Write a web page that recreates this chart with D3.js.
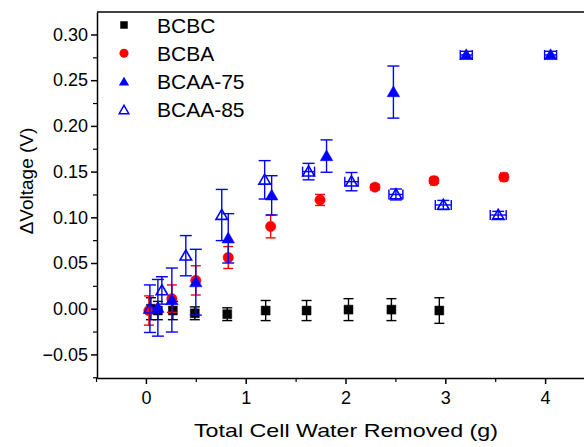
<!DOCTYPE html>
<html>
<head>
<meta charset="utf-8">
<script src="https://cdn.jsdelivr.net/npm/d3@7"></script>
<style>
  html, body { margin: 0; padding: 0; background: #fff; }
  svg { display: block; font-family: Arial, "Liberation Sans", sans-serif; }
</style>
</head>
<body>
<svg id="chart" width="584" height="447"></svg>
<script>
// Voltage change versus water removed, four cell configurations
const seriesNames = ["BCBC", "BCBA", "BCAA-75", "BCAA-85"];

const bcbcX    = [0.05, 0.12, 0.27, 0.49, 0.815, 1.20, 1.61, 2.03, 2.46, 2.94];
const bcbcY    = [0.0, -0.002, -0.002, -0.005, -0.006, -0.002, -0.002, -0.001, -0.001, -0.002];
const bcbcYErr = [0.012, 0.010, 0.010, 0.007, 0.007, 0.011, 0.011, 0.012, 0.012, 0.014];
const bcbcXErr = [0, 0, 0, 0, 0, 0, 0, 0, 0, 0];

const bcbaX    = [0.03, 0.26, 0.50, 0.825, 1.25, 1.745, 2.295, 2.886, 3.587];
const bcbaY    = [-0.002, 0.011, 0.031, 0.056, 0.090, 0.119, 0.133, 0.140, 0.144];
const bcbaYErr = [0.016, 0.015, 0.016, 0.012, 0.0125, 0.006, 0.003, 0.003, 0.003];
const bcbaXErr = [0, 0, 0, 0, 0, 0, 0, 0.03, 0.03];

const aa75X    = [0.12, 0.26, 0.50, 0.825, 1.26, 1.81, 2.48, 3.21, 4.055];
const aa75Y    = [0.001, 0.0095, 0.029, 0.077, 0.124, 0.167, 0.237, 0.2776, 0.2776];
const aa75YErr = [0.031, 0.035, 0.036, 0.027, 0.0215, 0.0177, 0.0285, 0.004, 0.004];
const aa75XErr = [0, 0, 0, 0, 0, 0, 0, 0.06, 0.06];

const aa85X    = [0.04, 0.16, 0.40, 0.76, 1.19, 1.63, 2.06, 2.505, 2.98, 3.53];
const aa85Y    = [0.0, 0.020, 0.058, 0.1025, 0.141, 0.150, 0.139, 0.125, 0.1135, 0.1025];
const aa85YErr = [0.026, 0.015, 0.022, 0.028, 0.021, 0.009, 0.010, 0.006, 0.005, 0.004];
const aa85XErr = [0, 0, 0, 0, 0, 0.06, 0.067, 0.07, 0.08, 0.08];

const xTickValues = [0, 1, 2, 3, 4];
const yTickValues = [-0.05, 0.00, 0.05, 0.10, 0.15, 0.20, 0.25, 0.30];

const svg = d3.select("#chart");
const mLeft = 97, mTop = 12, mBottom = 378;

const x = d3.scaleLinear().domain([-0.49, 4.55]).range([mLeft, mLeft + (4.55 + 0.49) * 99.8]);
const y = d3.scaleLinear().domain([-0.0758, 0.3246]).range([mBottom, mTop]);

function zip(xs, ys, ye, xe) {
  return xs.map((v, i) => ({ x: v, y: ys[i], ye: ye[i], xe: xe[i] }));
}

const series = [
  { name: seriesNames[0], data: zip(bcbcX, bcbcY, bcbcYErr, bcbcXErr), color: "#000000",
    symbol: d3.symbolSquare, size: 80, fill: true, legendSize: 56, cap: 5 },
  { name: seriesNames[1], data: zip(bcbaX, bcbaY, bcbaYErr, bcbaXErr), color: "#ff0000",
    symbol: d3.symbolCircle, size: 84, fill: true, legendSize: 64, cap: 5 },
  { name: seriesNames[2], data: zip(aa75X, aa75Y, aa75YErr, aa75XErr), color: "#0000ff",
    symbol: d3.symbolTriangle, size: 68, fill: true, legendSize: 46, cap: 6 },
  { name: seriesNames[3], data: zip(aa85X, aa85Y, aa85YErr, aa85XErr), color: "#0000ff",
    symbol: d3.symbolTriangle, size: 58, fill: false, legendSize: 40, cap: 6 }
];

// frame: top border
svg.append("line")
  .attr("x1", mLeft).attr("x2", 584).attr("y1", mTop).attr("y2", mTop)
  .attr("stroke", "#000").attr("stroke-width", 1.5);

// x axis
const xAxis = svg.append("g").attr("transform", `translate(0,${mBottom})`)
  .call(d3.axisBottom(x).tickValues(xTickValues).tickFormat(d3.format("d")).tickSize(6).tickSizeOuter(0));
xAxis.select(".domain").attr("stroke-width", 1.5);
xAxis.selectAll(".tick line").attr("stroke-width", 1.5);
xAxis.selectAll(".tick text").attr("font-size", 18).attr("dy", "0.95em").attr("fill", "#000")
  .attr("font-family", "Arial, 'Liberation Sans', sans-serif");
svg.append("g").attr("transform", `translate(0,${mBottom})`)
  .call(d3.axisBottom(x).tickValues([-0.5, 0.5, 1.5, 2.5, 3.5, 4.5]).tickFormat("").tickSize(4).tickSizeOuter(0))
  .call(g => g.select(".domain").remove())
  .selectAll(".tick line").attr("stroke-width", 1.2);

// y axis
const yAxis = svg.append("g").attr("transform", `translate(${mLeft},0)`)
  .call(d3.axisLeft(y).tickValues(yTickValues).tickFormat(d3.format(".2f")).tickSize(6).tickSizeOuter(0));
yAxis.select(".domain").attr("stroke-width", 1.5);
yAxis.selectAll(".tick line").attr("stroke-width", 1.5);
yAxis.selectAll(".tick text").attr("font-size", 18).attr("fill", "#000").attr("x", -9)
  .attr("font-family", "Arial, 'Liberation Sans', sans-serif");
svg.append("g").attr("transform", `translate(${mLeft},0)`)
  .call(d3.axisLeft(y).tickValues([-0.075, -0.025, 0.025, 0.075, 0.125, 0.175, 0.225, 0.275].filter(v => v > -0.0758 && v < 0.3246)).tickFormat("").tickSize(4).tickSizeOuter(0))
  .call(g => g.select(".domain").remove())
  .selectAll(".tick line").attr("stroke-width", 1.2);

// axis titles
svg.append("text")
  .attr("x", 346).attr("y", 437)
  .attr("text-anchor", "middle").attr("font-size", 19)
  .attr("textLength", 304).attr("lengthAdjust", "spacingAndGlyphs")
  .text("Total Cell Water Removed (g)");
svg.append("text")
  .attr("transform", "translate(33,181) rotate(-90)")
  .attr("text-anchor", "middle").attr("font-size", 19)
  .text("\u0394Voltage (V)");

// data: error bars then markers
const plot = svg.append("g");
series.forEach(s => {
  const g = plot.append("g");
  s.data.forEach(d => {
    const cx = x(d.x), cy = y(d.y);
    if (d.ye > 0) {
      const y0 = y(d.y - d.ye), y1 = y(d.y + d.ye);
      g.append("line").attr("x1", cx).attr("x2", cx).attr("y1", y0).attr("y2", y1)
        .attr("stroke", s.color).attr("stroke-width", 1.4);
      [y0, y1].forEach(yy => g.append("line")
        .attr("x1", cx - s.cap).attr("x2", cx + s.cap).attr("y1", yy).attr("y2", yy)
        .attr("stroke", s.color).attr("stroke-width", 1.4));
    }
    if (d.xe > 0) {
      const x0 = x(d.x - d.xe), x1 = x(d.x + d.xe);
      g.append("line").attr("x1", x0).attr("x2", x1).attr("y1", cy).attr("y2", cy)
        .attr("stroke", s.color).attr("stroke-width", 1.4);
      [x0, x1].forEach(xx => g.append("line")
        .attr("x1", xx).attr("x2", xx).attr("y1", cy - 5).attr("y2", cy + 5)
        .attr("stroke", s.color).attr("stroke-width", 1.4));
    }
  });
  g.selectAll("path.mark").data(s.data).join("path")
    .attr("class", "mark")
    .attr("d", d3.symbol().type(s.symbol).size(s.size))
    .attr("transform", d => `translate(${x(d.x)},${y(d.y) + (s.symbol === d3.symbolTriangle ? 1 : 0)})`)
    .attr("fill", s.fill ? s.color : "none")
    .attr("stroke", s.color)
    .attr("stroke-width", s.fill ? 0.5 : 1.6);
});

// legend
const legend = svg.append("g");
series.forEach((s, i) => {
  const ly = 25 + i * 28.3;
  legend.append("path")
    .attr("d", d3.symbol().type(s.symbol).size(s.legendSize))
    .attr("transform", `translate(124,${ly + (s.symbol === d3.symbolTriangle ? 1 : 0)})`)
    .attr("fill", s.fill ? s.color : "none")
    .attr("stroke", s.color)
    .attr("stroke-width", s.fill ? 0 : 1.5);
  legend.append("text")
    .attr("x", 157).attr("y", ly + 7.5)
    .attr("font-size", 21)
    .text(s.name);
});
</script>
</body>
</html>
